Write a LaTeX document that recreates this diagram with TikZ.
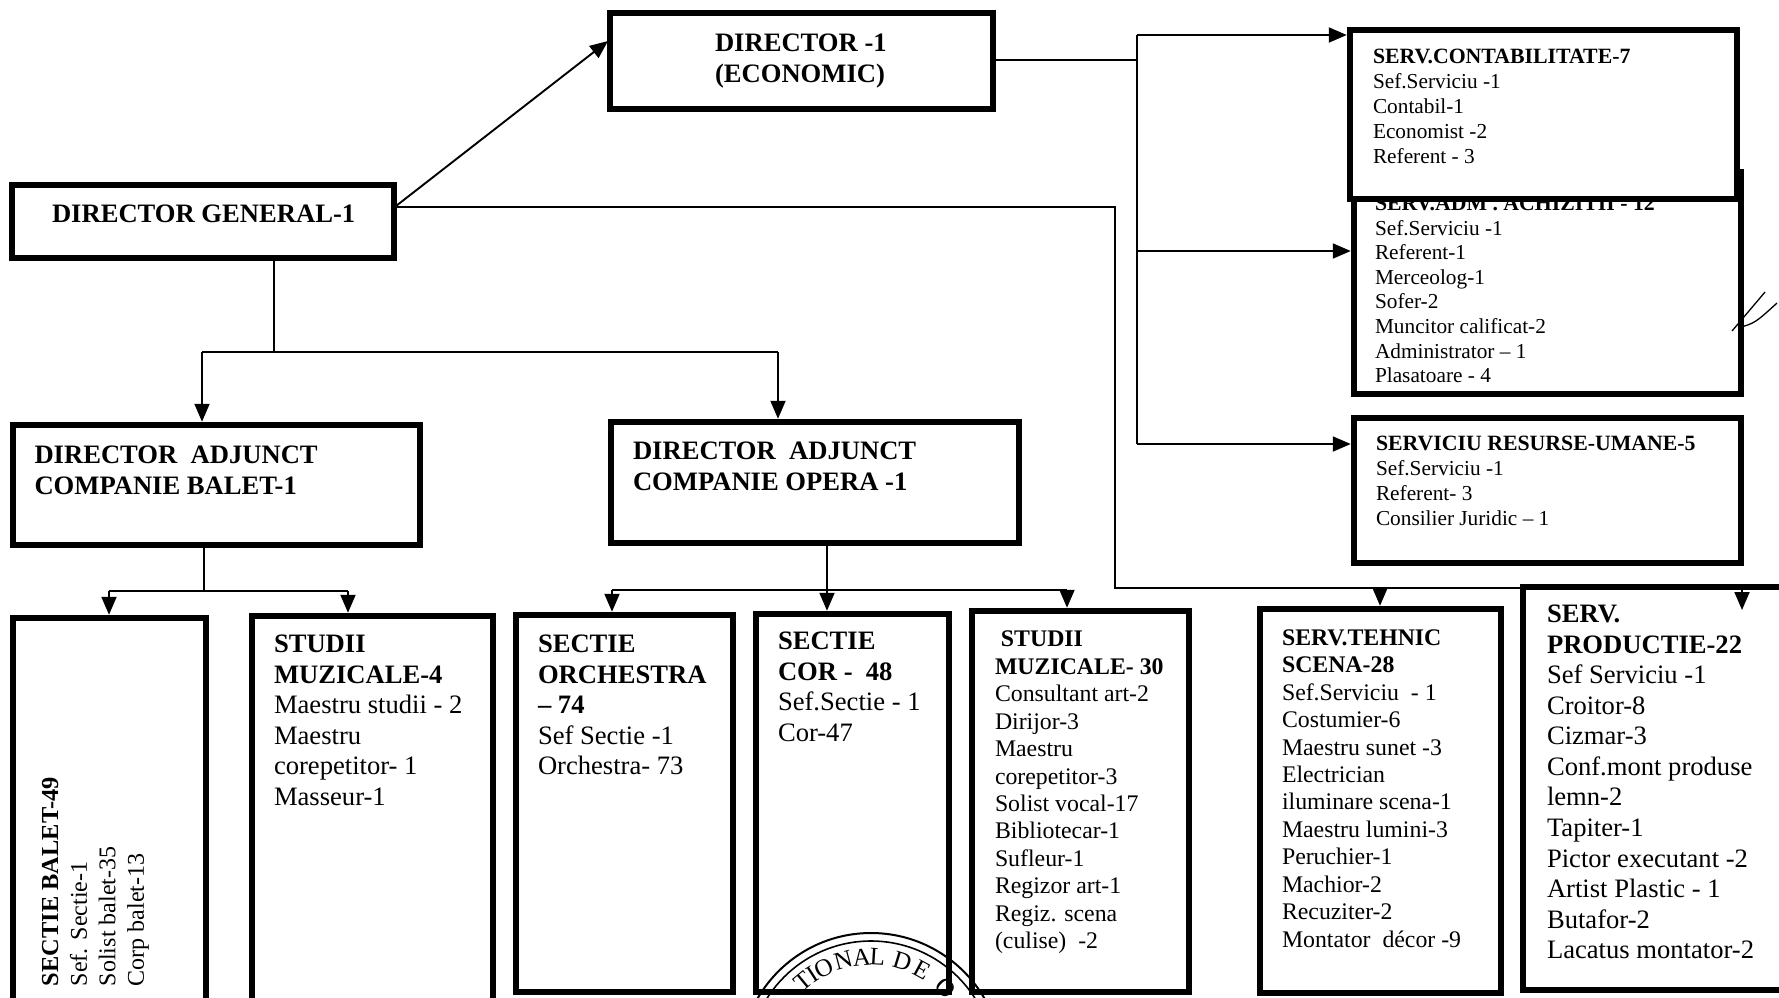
\documentclass[tikz,border=0pt]{standalone}
\usepackage{fontspec}
\setmainfont{Liberation Serif}
\usetikzlibrary{arrows.meta}
\tikzset{
  orgbox/.style={draw=black,fill=white,line width=6pt,outer sep=3pt,inner sep=0pt,rectangle},
  conn/.style={line width=1.9pt,draw=black},
  arr/.style={conn,-{Triangle[length=18pt,width=15pt]}},
  lab/.style={anchor=north west,inner sep=0pt,outer sep=0pt,align=left},
  fa/.style={lab,font=\fontsize{26.6}{30.55}\selectfont},
  fb/.style={lab,font=\fontsize{23.8}{27.45}\selectfont},
  fc/.style={lab,font=\fontsize{21.3}{24.96}\selectfont},
  fd/.style={lab,font=\fontsize{21.3}{24.6}\selectfont},
  fr/.style={lab,rotate=90,font=\fontsize{24}{28.6}\selectfont},
  stampl/.style={inner sep=0pt,font=\fontsize{25}{25}\selectfont}
}
\newcommand{\bx}[5]{\node[orgbox,minimum width={(#4-#2-3.5)*1pt},minimum height={(#5-#3-3.5)*1pt}] (#1) at ({(#2+#4)/2},{(#3+#5)/2}) {};}
\newcommand{\hd}[1]{{\fontsize{21.8}{24.9}\selectfont\textbf{#1}}}
\begin{document}
\begin{tikzpicture}[x=1pt,y=-1pt]
\useasboundingbox (0,0) rectangle (1779,997);
\clip (0,0) rectangle (1779,997);
\fill[white] (0,0) rectangle (1779,997);

% boxes
\bx{dg}{10}{183}{396}{260}
\bx{econ}{608}{11}{995}{111}
\bx{adm}{1352}{170}{1743}{396}
\node[fd] (tadm) at (1375,196) {\hd{SERV.ADM . ACHIZITII - 12}\\Sef.Serviciu -1\\Referent-1\\Merceolog-1\\Sofer-2\\Muncitor calificat-2\\Administrator -- 1\\Plasatoare - 4};
\bx{contab}{1348}{28}{1739}{201}
\bx{ru}{1352}{416}{1743}{565}
\bx{balet}{11}{423}{422}{547}
\bx{opera}{609}{420}{1021}{545}
\bx{sbal}{11}{616}{208}{1015}
\bx{st4}{250}{614}{495}{1015}
\bx{orch}{514}{613}{735}{994}
\bx{cor}{754}{612}{951}{994}
\bx{st30}{970}{609}{1191}{994}
\bx{teh}{1258}{607}{1503}{995}
\bx{prod}{1521}{585}{1800}{992}

% junction points
\coordinate (dgA) at (396,207);
\coordinate (dgB) at (396,206);
\coordinate (econIn) at (608,41);
\coordinate (econOut) at (995,60);
\coordinate (busTop) at (1137,60);
\coordinate (rowC) at (1137,35);
\coordinate (rowA) at (1137,251);
\coordinate (rowR) at (1137,444);
\coordinate (vLong) at (1115,207);
\coordinate (vLongB) at (1115,588);
\coordinate (dgDown) at (274,260);
\coordinate (dgJ) at (274,352);
\coordinate (aL) at (202,352);
\coordinate (aR) at (778,352);
\coordinate (balDown) at (204,547);
\coordinate (balJ) at (204,591);
\coordinate (bL) at (109,591);
\coordinate (bR) at (348,591);
\coordinate (opDown) at (827,545);
\coordinate (opJ) at (827,590);
\coordinate (oL) at (612,590);
\coordinate (oR) at (1067,590);
\coordinate (tehTop) at (1380,588);
\coordinate (prodTop) at (1742,588);
\coordinate (prodTip) at (1742,610);

% connectors
\draw[arr] (dgB) -- (econIn);
\draw[conn] (dgA) -- (vLong) -- (vLongB) -- (prod.north west |- vLongB);
\draw[arr] (tehTop) -- (teh.north -| tehTop);
\draw[arr] (prodTop) -- (prodTip);
\draw[conn] (econOut) -- (busTop);
\draw[arr] (rowC) -- (contab.west |- rowC);
\draw[arr] (rowA) -- (adm.west |- rowA);
\draw[conn] (rowC) -- (rowR);
\draw[arr] (rowR) -- (ru.west |- rowR);
\draw[conn] (dgDown) -- (dgJ);
\draw[conn] (aL) -- (aR);
\draw[arr] (aL) -- (balet.north -| aL);
\draw[arr] (aR) -- (opera.north -| aR);
\draw[conn] (balDown) -- (balJ);
\draw[conn] (bL) -- (bR);
\draw[arr] (bL) -- (sbal.north -| bL);
\draw[arr] (bR) -- (st4.north -| bR);
\draw[arr] (opDown) -- (cor.north -| opDown);
\draw[conn] (oL) -- (oR);
\draw[arr] (oL) -- (orch.north -| oL);
\draw[arr] (oR) -- (st30.north -| oR);

% texts
\node[fa] (tdg) at (52,205) {\textbf{DIRECTOR GENERAL-1}};
\node[fa] (tecon) at (715,34) {\textbf{DIRECTOR -1}\\\textbf{(ECONOMIC)}};
\node[fc] (tcontab) at (1373,49) {\hd{SERV.CONTABILITATE-7}\\Sef.Serviciu -1\\Contabil-1\\Economist -2\\Referent - 3};
\node[fc] (tru) at (1376,436) {\hd{SERVICIU RESURSE-UMANE-5}\\Sef.Serviciu -1\\Referent- 3\\Consilier Juridic -- 1};
\node[fa] (tbal) at (34.5,446) {\textbf{DIRECTOR\ \ ADJUNCT}\\\textbf{COMPANIE BALET-1}};
\node[fa] (topr) at (633,442) {\textbf{DIRECTOR\ \ ADJUNCT}\\\textbf{COMPANIE OPERA -1}};
\node[fr] (tsbal) at (42,986) {\textbf{\fontsize{24.4}{28.6}\selectfont SECTIE BALET-49}\\Sef. Sectie-1\\Solist balet-35\\Corp balet-13};
\node[fa] (tst4) at (274,635) {\textbf{STUDII}\\\textbf{MUZICALE-4}\\Maestru studii - 2\\Maestru\\corepetitor- 1\\Masseur-1};
\node[fa] (torch) at (538,635) {\textbf{SECTIE}\\\textbf{ORCHESTRA}\\\textbf{-- 74}\\Sef Sectie -1\\Orchestra- 73};
\node[fa] (tcor) at (778,632) {\textbf{SECTIE}\\\textbf{COR -\ \ 48}\\Sef.Sectie - 1\\Cor-47};
\node[fb] (tst30) at (995,631) {\textbf{\ STUDII}\\\textbf{MUZICALE- 30}\\Consultant art-2\\Dirijor-3\\Maestru\\corepetitor-3\\Solist vocal-17\\Bibliotecar-1\\Sufleur-1\\Regizor art-1\\Regiz. scena\\(culise)\ \ -2};
\node[fb] (tteh) at (1282,629.5) {\textbf{SERV.TEHNIC}\\\textbf{SCENA-28}\\Sef.Serviciu\ \ - 1\\Costumier-6\\Maestru sunet -3\\Electrician\\iluminare scena-1\\Maestru lumini-3\\Peruchier-1\\Machior-2\\Recuziter-2\\Montator\ \ décor -9};
\node[fa] (tprod) at (1547,605) {\textbf{SERV.}\\\textbf{PRODUCTIE-22}\\Sef Serviciu -1\\Croitor-8\\Cizmar-3\\Conf.mont produse\\lemn-2\\Tapiter-1\\Pictor executant -2\\Artist Plastic - 1\\Butafor-2\\Lacatus montator-2};

% stamp
\coordinate (stampC) at (871,1064);
\draw[line width=2pt] (stampC) circle[radius=131];
\draw[line width=1.6pt] (stampC) circle[radius=123];
\foreach \i/\l/\a in {1/T/-39.7,2/I/-33,3/O/-26,4/N/-15,5/A/-5,6/L/3.5,7/D/17,8/E/28.5,9/O/44.6}
  \node[stampl,rotate=-\a] (st\i) at ({871+107*sin(\a)},{1064-107*cos(\a)}) {\l};

% pen mark
\coordinate (penA) at (1732,331);
\coordinate (penB) at (1765,292);
\coordinate (penC) at (1738,328);
\coordinate (penD) at (1777,303);
\draw[line width=1.3pt] (penA) -- (penB);
\draw[line width=1.3pt] (penC) .. controls (1755,323) .. (penD);
\end{tikzpicture}
\end{document}
